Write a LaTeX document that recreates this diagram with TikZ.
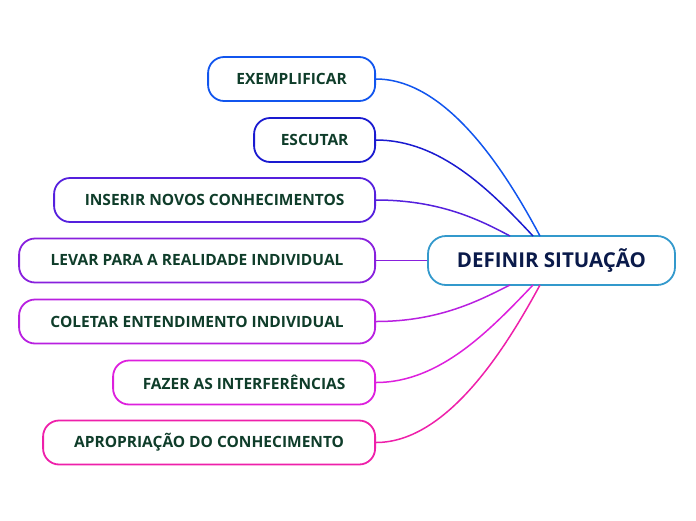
\documentclass[tikz,border=0pt]{standalone}
\usepackage{fontspec}
\setmainfont{Open Sans}
\begin{document}
\begin{tikzpicture}[x=1pt,y=-1pt,
 br/.style={draw=#1,line width=1.8pt,rounded corners=16pt,minimum height=44pt,inner sep=0pt,font=\bfseries\fontsize{15.5}{17}\selectfont,anchor=east},
 ln/.style={draw=#1,line width=1.5pt}]
\useasboundingbox (0,0) rectangle (696,520);
\definecolor{c1}{HTML}{1155EE}\definecolor{c2}{HTML}{1A1AD0}\definecolor{c3}{HTML}{5520DD}
\definecolor{c4}{HTML}{8820DD}\definecolor{c5}{HTML}{B820E0}\definecolor{c6}{HTML}{DD20DD}\definecolor{c7}{HTML}{EE20AA}
\definecolor{tx}{HTML}{0F3D2A}\definecolor{ct}{HTML}{0A1A4A}\definecolor{cb}{HTML}{3399CC}
\tikzset{every node/.append style={text=tx}}
\node[draw=cb,line width=1.8pt,rounded corners=18pt,minimum width=247pt,minimum height=49pt,font=\bfseries\fontsize{20.5}{23}\selectfont,text=ct] (c) at (551.5,260.5) {DEFINIR SITUAÇÃO};
\node[br=c1,minimum width=167pt] (a) at (376,79) {EXEMPLIFICAR};
\node[br=c2,minimum width=121pt] (b) at (376,140) {ESCUTAR};
\node[br=c3,minimum width=321pt] (d) at (376,200) {INSERIR NOVOS CONHECIMENTOS};
\node[br=c4,minimum width=356pt] (e) at (376,260.5) {LEVAR PARA A REALIDADE INDIVIDUAL};
\node[br=c5,minimum width=356pt] (f) at (376,321.5) {COLETAR ENTENDIMENTO INDIVIDUAL};
\node[br=c6,minimum width=262pt] (g) at (376,382.5) {FAZER AS INTERFERÊNCIAS};
\node[br=c7,minimum width=332pt] (h) at (376,442.5) {APROPRIAÇÃO DO CONHECIMENTO};
\coordinate (t1) at (540,236);\coordinate (t2) at (533,236);\coordinate (t3) at (510,236);
\coordinate (b1) at (540,285);\coordinate (b2) at (533,285);\coordinate (b3) at (510,285);
\draw[ln=c1] (a.east) .. controls (450,79) and (510,180) .. (t1);
\draw[ln=c2] (b.east) .. controls (440,140) and (490,190) .. (t2);
\draw[ln=c3] (d.east) .. controls (440,200) and (480,220) .. (t3);
\draw[ln=c4] (e.east) -- (c.west);
\draw[ln=c5] (f.east) .. controls (440,321.5) and (480,300) .. (b3);
\draw[ln=c6] (g.east) .. controls (440,382.5) and (490,330) .. (b2);
\draw[ln=c7] (h.east) .. controls (450,442.5) and (510,340) .. (b1);
\end{tikzpicture}
\end{document}
